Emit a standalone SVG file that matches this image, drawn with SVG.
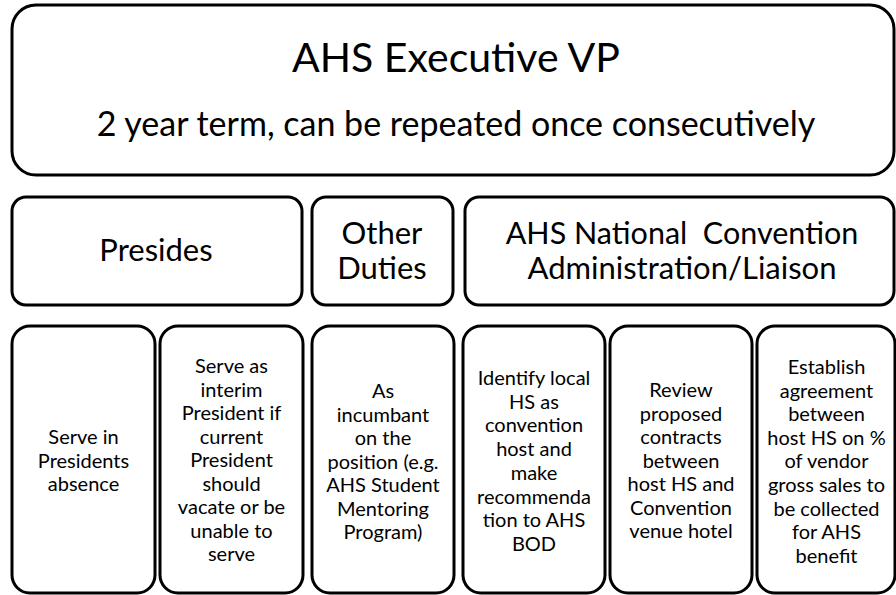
<svg xmlns="http://www.w3.org/2000/svg" width="896" height="595" viewBox="0 0 896 595">
<style>
.box{fill:#fff;stroke:#000;stroke-width:3}
text{font-family:Lato,"Open Sans","Liberation Sans",sans-serif;fill:#000;text-anchor:middle}
.t1{font-size:41px}
.t2{font-size:34px}
.t3{font-size:31px}
.t4{font-size:20px}
</style>
<rect width="896" height="595" fill="#fff"/>
<g id="exec">
<rect class="box" x="12" y="5" width="882" height="170" rx="24"/>
<text class="t1" x="456" y="72">AHS Executive VP</text>
<text class="t2" x="456" y="136">2 year term, can be repeated once consecutively</text>
</g>
<g id="presides">
<rect class="box" x="12" y="197" width="290" height="108" rx="14"/>
<text class="t3" x="156" y="261">Presides</text>
</g>
<g id="other">
<rect class="box" x="312" y="197" width="141" height="108" rx="14"/>
<text class="t3" x="382" y="244">Other</text>
<text class="t3" x="382" y="279">Duties</text>
</g>
<g id="convention">
<rect class="box" x="465" y="197" width="429" height="108" rx="14"/>
<text class="t3" x="682" y="244" style="font-size:30.5px" xml:space="preserve">AHS National  Convention</text>
<text class="t3" x="682" y="279">Administration/Liaison</text>
</g>
<g id="b1">
<rect class="box" x="12" y="326" width="143" height="267" rx="18"/>
<text class="t4" x="83.5" y="444">Serve in</text>
<text class="t4" x="83.5" y="467.5">Presidents</text>
<text class="t4" x="83.5" y="491">absence</text>
</g>
<g id="b2">
<rect class="box" x="160" y="326" width="143" height="267" rx="18"/>
<text class="t4" x="231.5" y="373">Serve as</text>
<text class="t4" x="231.5" y="396.5">interim</text>
<text class="t4" x="231.5" y="420">President if</text>
<text class="t4" x="231.5" y="443.5">current</text>
<text class="t4" x="231.5" y="467">President</text>
<text class="t4" x="231.5" y="490.5">should</text>
<text class="t4" x="231.5" y="514">vacate or be</text>
<text class="t4" x="231.5" y="537.5">unable to</text>
<text class="t4" x="231.5" y="561">serve</text>
</g>
<g id="b3">
<rect class="box" x="312" y="326" width="142" height="267" rx="18"/>
<text class="t4" x="383" y="398">As</text>
<text class="t4" x="383" y="421.5">incumbant</text>
<text class="t4" x="383" y="445">on the</text>
<text class="t4" x="383" y="468.5">position (e.g.</text>
<text class="t4" x="383" y="492">AHS Student</text>
<text class="t4" x="383" y="515.5">Mentoring</text>
<text class="t4" x="383" y="539">Program)</text>
</g>
<g id="b4">
<rect class="box" x="463" y="326" width="142" height="267" rx="18"/>
<text class="t4" x="534" y="385">Identify local</text>
<text class="t4" x="534" y="408.7">HS as</text>
<text class="t4" x="534" y="432.4">convention</text>
<text class="t4" x="534" y="456.1">host and</text>
<text class="t4" x="534" y="479.8">make</text>
<text class="t4" x="534" y="503.5">recommenda</text>
<text class="t4" x="534" y="527.2">tion to AHS</text>
<text class="t4" x="534" y="551">BOD</text>
</g>
<g id="b5">
<rect class="box" x="610" y="326" width="142" height="267" rx="18"/>
<text class="t4" x="681" y="397">Review</text>
<text class="t4" x="681" y="420.5">proposed</text>
<text class="t4" x="681" y="444">contracts</text>
<text class="t4" x="681" y="467.5">between</text>
<text class="t4" x="681" y="491">host HS and</text>
<text class="t4" x="681" y="514.5">Convention</text>
<text class="t4" x="681" y="538">venue hotel</text>
</g>
<g id="b6">
<rect class="box" x="757" y="326" width="138" height="267" rx="18"/>
<text class="t4" x="826.5" y="374">Establish</text>
<text class="t4" x="826.5" y="397.6">agreement</text>
<text class="t4" x="826.5" y="421.2">between</text>
<text class="t4" x="826.5" y="444.8">host HS on %</text>
<text class="t4" x="826.5" y="468.4">of vendor</text>
<text class="t4" x="826.5" y="492">gross sales to</text>
<text class="t4" x="826.5" y="515.6">be collected</text>
<text class="t4" x="826.5" y="539.2">for AHS</text>
<text class="t4" x="826.5" y="563">benefit</text>
</g>
<g id="connectors"></g>
</svg>
